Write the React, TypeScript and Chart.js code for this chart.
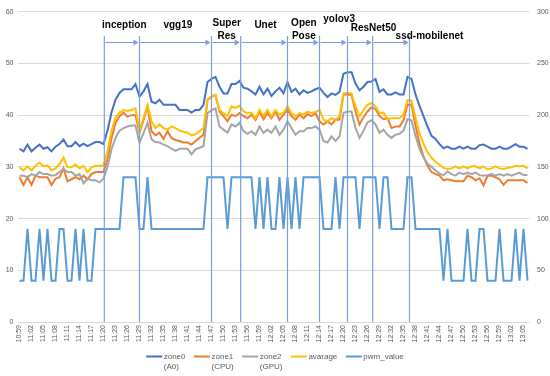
import React, { useEffect, useRef } from 'react';
import { Chart, registerables } from 'chart.js';

Chart.register(...registerables);

const timeLabels: string[] = [
  '10:59',
  '11:00','11:01','11:02','11:03','11:04','11:05','11:06','11:07','11:08','11:09',
  '11:10','11:11','11:12','11:13','11:14','11:15','11:16','11:17','11:18','11:19',
  '11:20','11:21','11:22','11:23','11:24','11:25','11:26','11:27','11:28','11:29',
  '11:30','11:31','11:32','11:33','11:34','11:35','11:36','11:37','11:38','11:39',
  '11:40','11:41','11:42','11:43','11:44','11:45','11:46','11:47','11:48','11:49',
  '11:50','11:51','11:52','11:53','11:54','11:55','11:56','11:57','11:58','11:59',
  '12:00','12:01','12:02','12:03','12:04','12:05','12:06','12:07','12:08','12:09',
  '12:10','12:11','12:12','12:13','12:14','12:15','12:16','12:17','12:18','12:19',
  '12:20','12:21','12:22','12:23','12:24','12:25','12:26','12:27','12:28','12:29',
  '12:30','12:31','12:32','12:33','12:34','12:35','12:36','12:37','12:38','12:39',
  '12:40','12:41','12:42','12:43','12:44','12:45','12:46','12:47','12:48','12:49',
  '12:50','12:51','12:52','12:53','12:54','12:55','12:56','12:57','12:58','12:59',
  '13:00','13:01','13:02','13:03','13:04','13:05','13:06',
];

const zone0: number[] = [
  33.5, 33.0, 34.3, 33.0, 33.7, 34.3, 33.5, 33.8, 33.0, 33.9,
  34.4, 35.3, 34.0, 34.0, 34.8, 34.0, 34.5, 34.0, 34.4, 34.8,
  34.8, 34.4, 37.0, 40.5, 43.0, 44.3, 45.0, 45.0, 45.0, 46.0,
  43.6, 44.6, 46.0, 42.6, 42.3, 43.0, 42.0, 42.0, 42.0, 42.0,
  41.0, 41.0, 41.0, 40.5, 41.0, 41.0, 42.0, 46.4, 47.0, 47.4,
  45.5, 44.2, 44.2, 46.0, 46.0, 46.6, 45.3, 45.1, 44.6, 44.0,
  45.5, 44.0, 45.1, 43.7, 44.6, 45.3, 44.2, 46.4, 44.5, 45.1,
  44.0, 44.8, 44.3, 44.6, 45.0, 45.3, 44.3, 43.5, 44.2, 43.9,
  44.5, 48.0, 48.3, 48.3, 46.1, 44.8, 45.5, 46.4, 46.5, 47.0,
  44.5, 45.0, 44.0, 44.0, 44.4, 44.0, 44.0, 47.4, 47.0, 44.0,
  41.8, 39.8, 37.8, 36.0, 35.4, 34.4, 33.6, 33.9, 33.5, 33.5,
  33.9, 33.5, 33.9, 33.5, 33.5, 34.2, 34.3, 33.9, 33.5, 33.5,
  33.9, 33.5, 33.5, 33.9, 34.4, 33.9, 33.9, 33.5,
];

const zone1: number[] = [
  28.0, 26.5, 28.0, 26.5, 28.3, 28.0, 28.0, 28.0, 26.5, 27.7,
  28.0, 29.7, 27.2, 27.6, 28.0, 27.6, 28.3, 27.6, 28.6, 29.0,
  29.0, 29.0, 31.5, 35.5, 38.5, 39.8, 40.5, 39.7, 40.0, 40.0,
  36.6, 39.0, 41.7, 36.9, 36.1, 36.6, 35.4, 36.9, 35.6, 35.2,
  35.0, 34.7, 34.7, 34.3, 35.0, 35.6, 36.2, 42.9, 43.6, 43.9,
  40.7, 39.8, 38.8, 40.1, 39.8, 40.4, 39.8, 39.4, 40.1, 39.1,
  40.7, 39.2, 40.4, 39.4, 40.7, 39.1, 40.1, 41.0, 39.8, 39.1,
  40.1, 39.4, 40.2, 39.8, 40.4, 38.8, 38.2, 38.8, 38.2, 39.1,
  39.1, 44.0, 44.0, 43.9, 40.7, 38.2, 39.6, 40.7, 41.5, 41.2,
  39.8, 39.2, 39.4, 37.5, 37.8, 37.8, 39.0, 42.0, 42.0, 38.0,
  34.5, 32.0, 30.2, 29.0, 28.6, 28.3, 27.4, 27.6, 27.4, 27.2,
  27.2, 27.2, 28.3, 28.0, 27.4, 27.8, 26.4, 28.3, 28.3, 28.0,
  27.6, 26.5, 27.4, 27.4, 27.4, 27.4, 27.4, 26.9,
];

const zone2: number[] = [
  28.3, 28.3, 28.0, 28.6, 28.3, 29.0, 28.6, 28.6, 28.3, 28.4,
  29.0, 29.6, 29.0, 29.0, 28.3, 28.6, 26.8, 27.7, 27.4, 27.4,
  27.0, 27.7, 30.0, 33.4, 35.6, 37.0, 37.5, 37.8, 38.0, 38.0,
  34.7, 36.5, 38.5, 35.3, 34.8, 34.7, 34.3, 34.0, 33.5, 33.1,
  33.5, 33.5, 33.5, 32.4, 33.4, 33.7, 34.0, 40.4, 40.9, 41.3,
  37.8, 37.2, 36.6, 38.2, 37.8, 38.5, 36.9, 36.4, 36.9, 36.2,
  37.8, 36.6, 37.2, 36.6, 37.8, 36.2, 37.2, 38.8, 37.5, 36.2,
  36.9, 36.9, 37.5, 37.5, 37.8, 37.2, 35.0, 34.7, 35.9, 35.0,
  35.9, 40.4, 40.7, 40.7, 37.5, 35.6, 37.0, 38.6, 39.0, 38.2,
  36.6, 37.2, 36.2, 35.6, 36.2, 36.4, 37.0, 39.2, 39.0, 36.0,
  33.5, 31.8, 30.6, 30.0, 29.3, 28.7, 28.4, 29.1, 28.6, 28.3,
  28.9, 28.6, 28.9, 28.6, 28.9, 28.4, 28.3, 28.4, 28.6, 28.3,
  28.6, 28.3, 28.6, 28.3, 28.6, 28.9, 28.4, 28.4,
];

const avarage: number[] = [
  29.9, 29.3, 30.1, 29.3, 30.2, 30.8, 30.1, 30.3, 29.3, 29.7,
  30.5, 31.8, 29.9, 29.9, 30.5, 29.7, 30.2, 29.0, 29.9, 30.2,
  30.2, 30.2, 33.0, 37.0, 39.5, 40.5, 41.0, 40.8, 41.0, 41.3,
  36.9, 39.5, 42.0, 38.8, 37.5, 38.2, 37.5, 37.2, 37.8, 37.5,
  37.0, 36.8, 36.6, 36.1, 36.3, 36.9, 37.5, 43.0, 43.6, 43.9,
  41.0, 40.4, 39.8, 41.7, 41.4, 41.8, 40.7, 40.4, 40.5, 39.4,
  41.0, 39.9, 41.0, 39.8, 41.0, 40.1, 40.5, 41.7, 40.4, 39.8,
  40.4, 40.1, 40.7, 40.4, 40.6, 41.0, 39.1, 38.8, 39.4, 39.1,
  39.8, 44.2, 44.3, 44.2, 41.7, 39.8, 41.0, 42.0, 42.3, 41.7,
  40.4, 40.5, 39.2, 39.4, 39.4, 39.4, 40.1, 42.9, 42.8, 39.5,
  36.5, 34.5, 32.8, 31.8, 31.0, 30.4, 29.8, 29.6, 29.7, 30.1,
  29.7, 30.1, 29.7, 30.1, 30.1, 29.7, 30.1, 29.5, 29.7, 30.1,
  29.7, 29.6, 29.8, 29.9, 30.2, 30.1, 30.2, 29.7,
];

const pwmValue: number[] = [
  40, 40, 90, 40, 40, 90, 40, 90, 40, 40,
  90, 90, 40, 40, 90, 40, 90, 40, 40, 90,
  90, 90, 90, 90, 90, 90, 140, 140, 140, 140,
  90, 90, 140, 90, 90, 90, 90, 90, 90, 90,
  90, 90, 90, 90, 90, 90, 90, 140, 140, 140,
  140, 140, 90, 140, 140, 140, 140, 140, 140, 90,
  140, 90, 140, 90, 90, 140, 90, 140, 90, 140,
  90, 140, 140, 140, 140, 140, 90, 90, 90, 140,
  90, 140, 140, 140, 140, 90, 140, 140, 140, 140,
  90, 140, 140, 90, 90, 90, 90, 140, 140, 90,
  90, 90, 90, 90, 90, 90, 40, 90, 40, 40,
  40, 40, 90, 40, 40, 90, 90, 40, 40, 40,
  90, 40, 40, 40, 90, 40, 90, 40,
];

// Stage annotations (x in category-index units, y in left-axis units)
const stageNames: string[][] = [
  ['inception'], ['vgg19'], ['Super', 'Res'], ['Unet'],
  ['Open', 'Pose'], ['yolov3'], ['ResNet50'], ['ssd-mobilenet'],
];
const stageBounds: number[] = [21.2, 30, 48, 55.3, 67, 75, 82, 88.3, 97.5];
const stageLabelX: number[] = [26.2, 39.6, 51.8, 61.5, 71.1, 79.9, 88.5, 102.5];
const stageLabelY: number[] = [57.4, 57.4, 57.8, 57.4, 57.8, 58.5, 56.8, 55.3];
const markerTop = 55.3;
const arrowLevel = 54.2;

const FONT = '"Liberation Sans", Arial, sans-serif';
const TICK_COLOR = '#595959';
const MARK_COLOR = '#7C9DDA';

const stagePlugin = {
  id: 'stages',
  afterDatasetsDraw(chart: any) {
    const { ctx, scales } = chart;
    const x = scales.x;
    const y = scales.y;
    ctx.save();
    const top = y.getPixelForValue(markerTop);
    const bottom = y.getPixelForValue(0);
    const ay = Math.round(y.getPixelForValue(arrowLevel)) + 0.5;
    ctx.strokeStyle = MARK_COLOR;
    ctx.fillStyle = MARK_COLOR;
    ctx.lineWidth = 1.2;
    const px = stageBounds.map((b) => x.getPixelForValue(b));
    px.forEach((p) => {
      ctx.beginPath();
      ctx.moveTo(p, top);
      ctx.lineTo(p, bottom);
      ctx.stroke();
    });
    ctx.lineWidth = 1;
    for (let k = 0; k < px.length - 1; k++) {
      const x0 = px[k] + 1;
      const x1 = px[k + 1] - 1;
      ctx.beginPath();
      ctx.moveTo(x0, ay);
      ctx.lineTo(x1 - 3, ay);
      ctx.stroke();
      ctx.beginPath();
      ctx.moveTo(x1, ay);
      ctx.lineTo(x1 - 5, ay - 3);
      ctx.lineTo(x1 - 5, ay + 3);
      ctx.closePath();
      ctx.fill();
    }
    ctx.fillStyle = '#000000';
    ctx.font = 'bold 10px ' + FONT;
    ctx.textAlign = 'center';
    ctx.textBaseline = 'middle';
    stageNames.forEach((lines, i) => {
      const cx = x.getPixelForValue(stageLabelX[i]);
      const cy = y.getPixelForValue(stageLabelY[i]);
      lines.forEach((t, j) => ctx.fillText(t, cx, cy + j * 12.7));
    });
    ctx.restore();
  },
};

const legendPlugin = {
  id: 'customLegend',
  afterDraw(chart: any) {
    const { ctx } = chart;
    const items = chart.data.datasets.map((d: any) => ({
      lines: String(d.label).split('\n'),
      color: d.borderColor,
    }));
    ctx.save();
    ctx.font = '8px ' + FONT;
    const lineW = 16;
    const gap = 1.5;
    const spacing = 8.5;
    const widths = items.map(
      (it: any) => lineW + gap + Math.max(...it.lines.map((l: string) => ctx.measureText(l).width))
    );
    const total = widths.reduce((a: number, b: number) => a + b, 0) + spacing * (items.length - 1);
    let cx = chart.width / 2 - total / 2;
    const y1 = 356.5;
    const lh = 10.7;
    items.forEach((it: any, i: number) => {
      ctx.strokeStyle = it.color;
      ctx.lineWidth = 2;
      ctx.beginPath();
      ctx.moveTo(cx, y1);
      ctx.lineTo(cx + lineW, y1);
      ctx.stroke();
      ctx.fillStyle = TICK_COLOR;
      ctx.textAlign = 'left';
      ctx.textBaseline = 'middle';
      it.lines.forEach((l: string, j: number) => ctx.fillText(l, cx + lineW + gap, y1 + j * lh));
      cx += widths[i] + spacing;
    });
    ctx.restore();
  },
};

export default function App() {
  const ref = useRef<HTMLCanvasElement>(null);
  useEffect(() => {
    document.body.style.margin = '0';
    const mk = (label: string, data: number[], color: string, axis: string, order: number) => ({
      label,
      data,
      borderColor: color,
      backgroundColor: color,
      borderWidth: 2,
      pointRadius: 0,
      tension: 0,
      yAxisID: axis,
      order,
    });
    const chart = new Chart(ref.current as HTMLCanvasElement, {
      type: 'line',
      data: {
        labels: timeLabels,
        datasets: [
          mk('zone0\n(A0)', zone0, '#4472C4', 'y', 5),
          mk('zone1\n(CPU)', zone1, '#ED7D31', 'y', 4),
          mk('zone2\n(GPU)', zone2, '#A5A5A5', 'y', 3),
          mk('avarage', avarage, '#FFC000', 'y', 2),
          mk('pwm_value', pwmValue, '#5B9BD5', 'y2', 1),
        ],
      },
      options: {
        responsive: false,
        animation: false,
        devicePixelRatio: 1,
        layout: { padding: { top: 7, left: 0, right: 0, bottom: 28 } },
        plugins: {
          legend: { display: false },
          tooltip: { enabled: false },
        },
        scales: {
          x: {
            type: 'category',
            offset: true,
            grid: { display: false, drawTicks: false },
            border: { display: false },
            ticks: {
              autoSkip: false,
              minRotation: 90,
              maxRotation: 90,
              padding: 3,
              color: TICK_COLOR,
              font: { family: FONT, size: 7 },
              callback: (_v: any, i: number) => (i % 3 === 0 ? timeLabels[i] : ''),
            },
            afterFit: (s: any) => {
              s.height = 26;
            },
          },
          y: {
            position: 'left',
            min: 0,
            max: 60,
            grid: { color: '#D9D9D9', lineWidth: 1, drawTicks: false },
            border: { display: false },
            ticks: {
              stepSize: 10,
              padding: 4,
              color: TICK_COLOR,
              font: { family: FONT, size: 7 },
            },
            afterFit: (s: any) => {
              s.width = 17.5;
            },
          },
          y2: {
            position: 'right',
            min: 0,
            max: 300,
            grid: { display: false, drawTicks: false },
            border: { display: false },
            ticks: {
              stepSize: 50,
              padding: 7.5,
              color: TICK_COLOR,
              font: { family: FONT, size: 7 },
            },
            afterFit: (s: any) => {
              s.width = 20.5;
            },
          },
        },
      },
      plugins: [stagePlugin, legendPlugin],
    } as any);
    return () => chart.destroy();
  }, []);
  return (
    <div style={{ position: 'relative', width: 550, height: 376 }}>
      <canvas ref={ref} width={550} height={376} />
    </div>
  );
}
